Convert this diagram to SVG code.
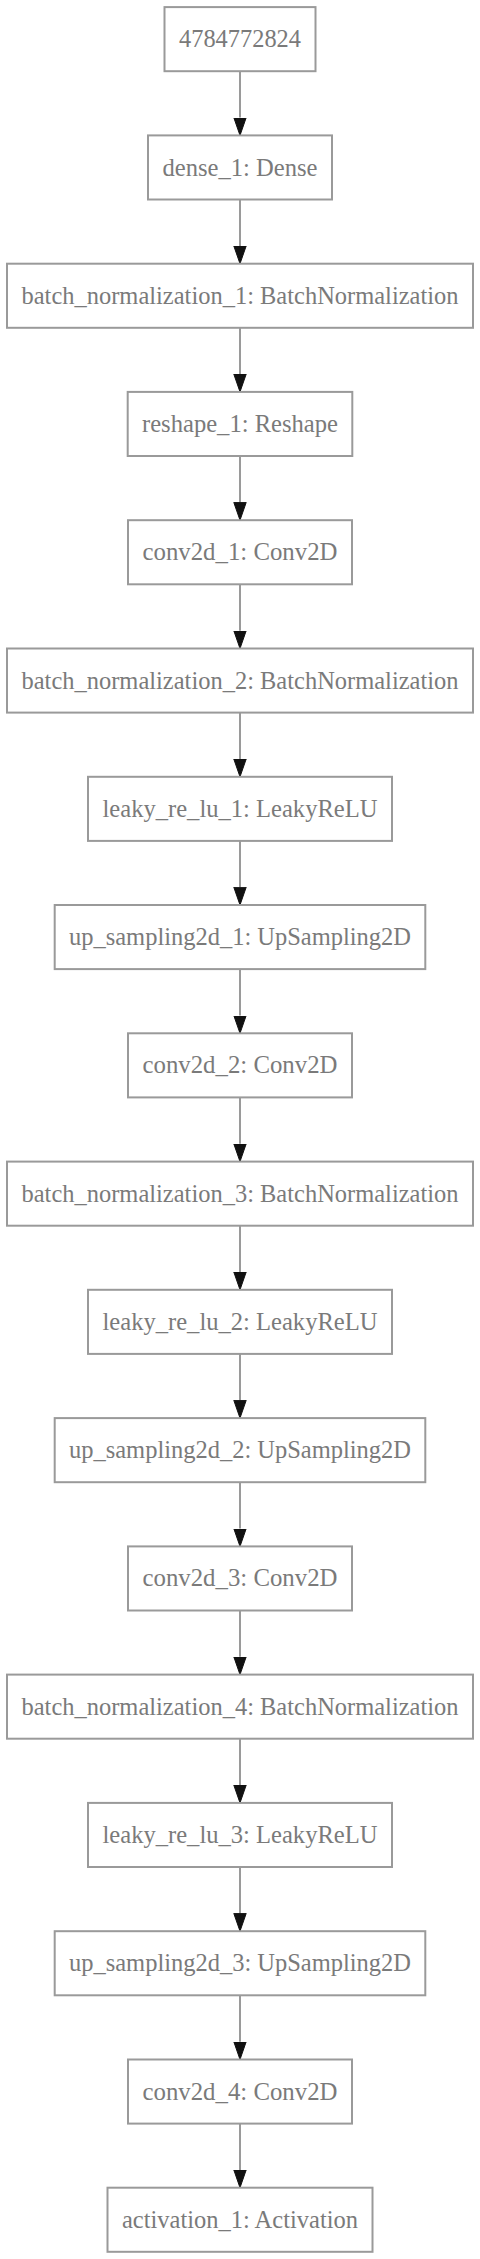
<svg xmlns="http://www.w3.org/2000/svg" width="480" height="2259" viewBox="0 0 480 2259">
<style>
.n rect{fill:#fff;stroke:#9a9a9a;stroke-width:2}
.n text{font-family:"Liberation Serif","Times New Roman",serif;font-size:25px;fill:#7a7a7a;text-anchor:middle}
.e path{stroke:#9a9a9a;stroke-width:2;fill:none}
</style>
<defs>
<marker id="ah" markerUnits="userSpaceOnUse" markerWidth="20" markerHeight="14" refX="0" refY="7" orient="auto" viewBox="0 0 20 14">
<path d="M0,0.8 L17.8,7 L0,13.2 Z" fill="#111" stroke="#111" stroke-width="1"/>
</marker>
</defs>
<rect width="480" height="2259" fill="#fff"/>
<g id="edges" class="e">
<path d="M240,71.2 V117.6" marker-end="url(#ah)"/>
<path d="M240,199.5 V245.9" marker-end="url(#ah)"/>
<path d="M240,327.8 V374.1" marker-end="url(#ah)"/>
<path d="M240,456.0 V502.4" marker-end="url(#ah)"/>
<path d="M240,584.3 V630.7" marker-end="url(#ah)"/>
<path d="M240,712.6 V759.0" marker-end="url(#ah)"/>
<path d="M240,840.9 V887.2" marker-end="url(#ah)"/>
<path d="M240,969.1 V1015.5" marker-end="url(#ah)"/>
<path d="M240,1097.4 V1143.8" marker-end="url(#ah)"/>
<path d="M240,1225.7 V1272.0" marker-end="url(#ah)"/>
<path d="M240,1353.9 V1400.3" marker-end="url(#ah)"/>
<path d="M240,1482.2 V1528.6" marker-end="url(#ah)"/>
<path d="M240,1610.5 V1656.8" marker-end="url(#ah)"/>
<path d="M240,1738.7 V1785.1" marker-end="url(#ah)"/>
<path d="M240,1867.0 V1913.4" marker-end="url(#ah)"/>
<path d="M240,1995.3 V2041.7" marker-end="url(#ah)"/>
<path d="M240,2123.6 V2169.9" marker-end="url(#ah)"/>
</g>
<g id="n0" class="n"><rect x="164.5" y="7.1" width="151" height="64.1"/><text x="240" y="47.2" textLength="122" lengthAdjust="spacingAndGlyphs">4784772824</text></g>
<g id="n1" class="n"><rect x="148" y="135.4" width="184" height="64.1"/><text x="240" y="175.5" textLength="155" lengthAdjust="spacingAndGlyphs">dense_1: Dense</text></g>
<g id="n2" class="n"><rect x="7" y="263.7" width="466" height="64.1"/><text x="240" y="303.7" textLength="437" lengthAdjust="spacingAndGlyphs">batch_normalization_1: BatchNormalization</text></g>
<g id="n3" class="n"><rect x="127.7" y="391.9" width="224.6" height="64.1"/><text x="240" y="432.0" textLength="196" lengthAdjust="spacingAndGlyphs">reshape_1: Reshape</text></g>
<g id="n4" class="n"><rect x="128" y="520.2" width="224" height="64.1"/><text x="240" y="560.3" textLength="195" lengthAdjust="spacingAndGlyphs">conv2d_1: Conv2D</text></g>
<g id="n5" class="n"><rect x="7" y="648.5" width="466" height="64.1"/><text x="240" y="688.5" textLength="437" lengthAdjust="spacingAndGlyphs">batch_normalization_2: BatchNormalization</text></g>
<g id="n6" class="n"><rect x="88" y="776.8" width="304" height="64.1"/><text x="240" y="816.8" textLength="275" lengthAdjust="spacingAndGlyphs">leaky_re_lu_1: LeakyReLU</text></g>
<g id="n7" class="n"><rect x="54.7" y="905.0" width="370.6" height="64.1"/><text x="240" y="945.1" textLength="342" lengthAdjust="spacingAndGlyphs">up_sampling2d_1: UpSampling2D</text></g>
<g id="n8" class="n"><rect x="128" y="1033.3" width="224" height="64.1"/><text x="240" y="1073.3" textLength="195" lengthAdjust="spacingAndGlyphs">conv2d_2: Conv2D</text></g>
<g id="n9" class="n"><rect x="7" y="1161.6" width="466" height="64.1"/><text x="240" y="1201.6" textLength="437" lengthAdjust="spacingAndGlyphs">batch_normalization_3: BatchNormalization</text></g>
<g id="n10" class="n"><rect x="88" y="1289.8" width="304" height="64.1"/><text x="240" y="1329.9" textLength="275" lengthAdjust="spacingAndGlyphs">leaky_re_lu_2: LeakyReLU</text></g>
<g id="n11" class="n"><rect x="54.7" y="1418.1" width="370.6" height="64.1"/><text x="240" y="1458.2" textLength="342" lengthAdjust="spacingAndGlyphs">up_sampling2d_2: UpSampling2D</text></g>
<g id="n12" class="n"><rect x="128" y="1546.4" width="224" height="64.1"/><text x="240" y="1586.4" textLength="195" lengthAdjust="spacingAndGlyphs">conv2d_3: Conv2D</text></g>
<g id="n13" class="n"><rect x="7" y="1674.6" width="466" height="64.1"/><text x="240" y="1714.7" textLength="437" lengthAdjust="spacingAndGlyphs">batch_normalization_4: BatchNormalization</text></g>
<g id="n14" class="n"><rect x="88" y="1802.9" width="304" height="64.1"/><text x="240" y="1843.0" textLength="275" lengthAdjust="spacingAndGlyphs">leaky_re_lu_3: LeakyReLU</text></g>
<g id="n15" class="n"><rect x="54.7" y="1931.2" width="370.6" height="64.1"/><text x="240" y="1971.2" textLength="342" lengthAdjust="spacingAndGlyphs">up_sampling2d_3: UpSampling2D</text></g>
<g id="n16" class="n"><rect x="128" y="2059.5" width="224" height="64.1"/><text x="240" y="2099.5" textLength="195" lengthAdjust="spacingAndGlyphs">conv2d_4: Conv2D</text></g>
<g id="n17" class="n"><rect x="107.5" y="2187.7" width="265" height="64.1"/><text x="240" y="2227.8" textLength="236" lengthAdjust="spacingAndGlyphs">activation_1: Activation</text></g>
</svg>
